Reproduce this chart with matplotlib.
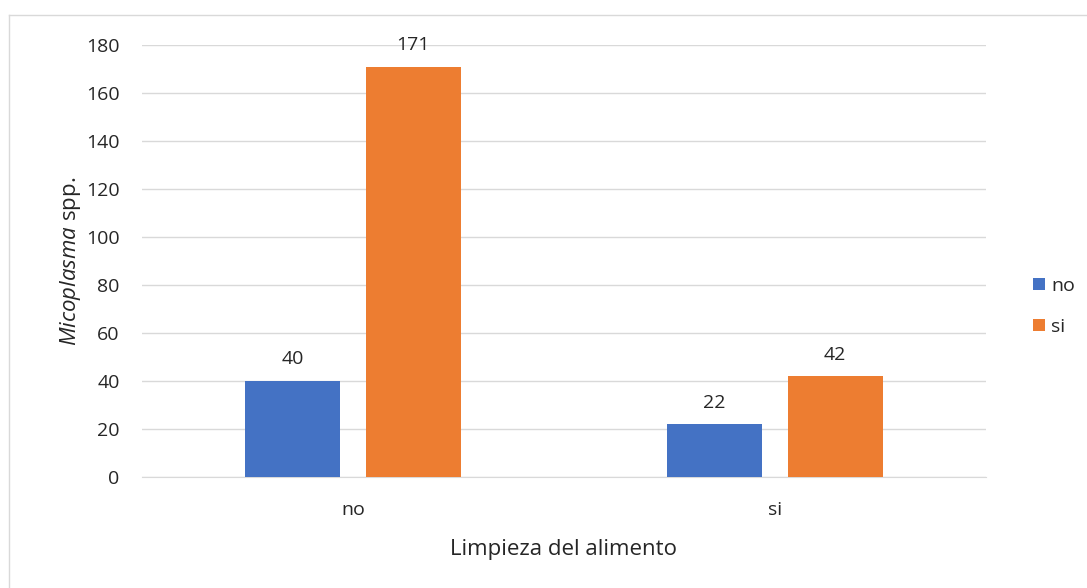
import numpy as np
import matplotlib.pyplot as plt
from matplotlib.lines import Line2D

plt.rcParams['font.family'] = ['Open Sans', 'DejaVu Sans']
plt.rcParams['mathtext.fontset'] = 'custom'
plt.rcParams['mathtext.rm'] = 'Open Sans'
plt.rcParams['mathtext.it'] = 'Open Sans:italic'

# datos
categorias = ['no', 'si']
series = ['no', 'si']
valores_no = [40, 22]
valores_si = [171, 42]
colores = ['#4472C4', '#ED7D31']
texto = '#262626'

fig = plt.figure(figsize=(10.87, 5.88), dpi=100)
ax = fig.add_axes([0.1306, 0.1888, 0.7764, 0.7347])

x = np.arange(len(categorias))
ancho = 0.225
desp = 0.143
for vals, d, c, nombre in [(valores_no, -desp, colores[0], series[0]),
                           (valores_si, desp, colores[1], series[1])]:
    barras = ax.bar(x + d, vals, width=ancho, color=c, label=nombre, zorder=3)
    for b, v in zip(barras, vals):
        ax.annotate(str(v), (b.get_x() + b.get_width() / 2, v),
                    xytext=(0, 9), textcoords='offset points',
                    ha='center', va='bottom', fontsize=14, color=texto)

ax.set_xlim(-0.5, 1.5)
ax.set_ylim(0, 180)
ax.set_yticks(range(0, 181, 20))
ax.set_xticks(x)
ax.set_xticklabels(categorias)
ax.tick_params(length=0, labelsize=14, labelcolor=texto)
ax.tick_params(axis='y', pad=16)
ax.tick_params(axis='x', pad=17)
ax.grid(axis='y', color='#d9d9d9', linewidth=1, zorder=0)
for s in ['top', 'right', 'left']:
    ax.spines[s].set_visible(False)
ax.spines['bottom'].set_color('#d9d9d9')

ax.set_xlabel('Limpieza del alimento', fontsize=16, color=texto, labelpad=15)
ax.set_ylabel(r'$\it{Micoplasma}$ spp.', fontsize=16, color=texto, labelpad=2)

ax.legend(loc='center left', bbox_to_anchor=(1.035, 0.395), frameon=False,
          fontsize=14, handlelength=0.6, handleheight=0.6, handletextpad=0.35,
          labelspacing=1.2, labelcolor=texto)

# borde del gráfico
fig.add_artist(Line2D([9 / 1087, 9 / 1087], [0, 1 - 15 / 588],
                      transform=fig.transFigure, color='#d9d9d9', lw=1))
fig.add_artist(Line2D([9 / 1087, 1], [1 - 15 / 588, 1 - 15 / 588],
                      transform=fig.transFigure, color='#d9d9d9', lw=1))

fig.savefig('out.png', dpi=100)
